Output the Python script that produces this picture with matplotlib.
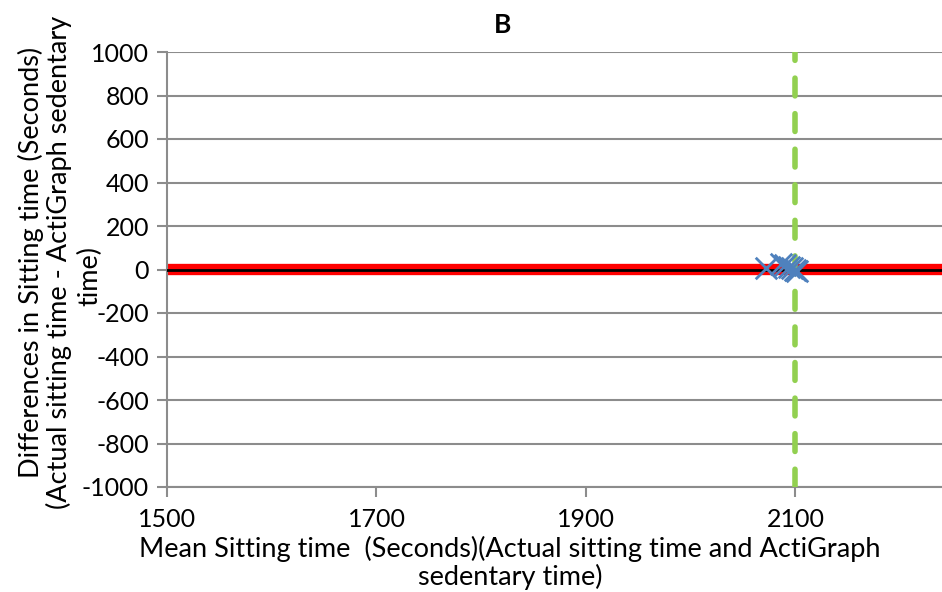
import matplotlib.pyplot as plt

# Dados
media = [2072, 2086, 2090, 2094, 2097, 2100, 2102]
diferenca = [5, 25, 20, 10, 5, 0, -5]
linha_media = 0
limite_sup = 8
limite_inf = -8
x_ref = 2100

x_ticks = [1500, 1700, 1900, 2100]
y_ticks = list(range(-1000, 1001, 200))

plt.rcParams['font.family'] = ['Lato', 'DejaVu Sans']
plt.rcParams['axes.unicode_minus'] = False

fig = plt.figure(figsize=(9.42, 5.92), dpi=100)
ax = fig.add_axes([167 / 942, 1 - 487 / 592, (942 - 167) / 942, (487 - 52) / 592])

# Linhas de grade
for y in y_ticks:
    ax.axhline(y, color='#8c8c8c', lw=1.5, zorder=1)

# Limites e média
ax.axhline(limite_sup, color='#ff0000', lw=6, zorder=2)
ax.axhline(limite_inf, color='#ff0000', lw=6, zorder=2)
ax.axhline(linha_media, color='black', lw=2, zorder=3)

# Linha vertical tracejada
ax.axvline(x_ref, color='#92d050', lw=4, ls=(0, (3.2, 3.2)), dash_capstyle='round', zorder=4)

# Pontos
ax.scatter(media, diferenca, marker='x', s=240, color='#4f81bd', linewidths=2, zorder=5)

ax.set_xlim(1500, 2240)
ax.set_ylim(-1000, 1000)
ax.set_xticks(x_ticks)
ax.set_yticks(y_ticks)
ax.tick_params(axis='both', labelsize=18, color='#8c8c8c', width=1.5, length=7)
ax.tick_params(axis='x', pad=8)
ax.tick_params(axis='y', pad=6)

for s in ['top', 'right']:
    ax.spines[s].set_visible(False)
ax.spines['left'].set_color('#8c8c8c')
ax.spines['left'].set_linewidth(1.5)
ax.spines['bottom'].set_color('#8c8c8c')
ax.spines['bottom'].set_linewidth(1.5)

fig.text(503 / 942, 1 - 25 / 592, 'B', fontsize=19, fontweight='bold', ha='center', va='center')
fig.text(510 / 942, 1 - 563 / 592,
         'Mean Sitting time  (Seconds)(Actual sitting time and ActiGraph\nsedentary time)',
         fontsize=19.5, ha='center', va='center', multialignment='center', linespacing=1.1)
fig.text(45 / 942, 1 - 262 / 592,
         'Differences in Sitting time (Seconds)\n(Actual sitting time - ActiGraph sedentary',
         fontsize=19.5, ha='center', va='center', rotation=90, multialignment='center', linespacing=1.1)
fig.text(90 / 942, 1 - 276 / 592, 'time)',
         fontsize=19.5, ha='center', va='center', rotation=90)

fig.savefig('out.png', dpi=100)
